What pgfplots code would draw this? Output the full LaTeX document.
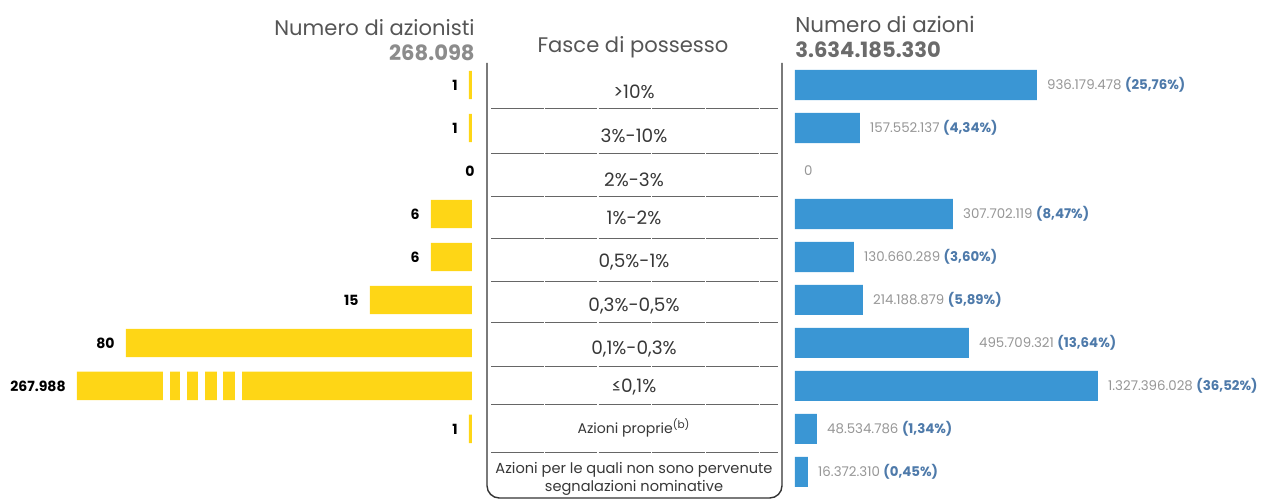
\documentclass[border=0pt]{standalone}
\usepackage{pgfplots}
\pgfplotsset{compat=1.18}
\usepackage{pgfplotstable}
\usepackage{fontspec}
\setmainfont{Poppins}
\definecolor{yel}{RGB}{254,214,22}
\definecolor{blu}{RGB}{58,150,212}
\definecolor{pctcol}{RGB}{78,122,170}
\definecolor{valcol}{RGB}{150,150,150}
\definecolor{hdr}{RGB}{85,85,85}
\definecolor{midtxt}{RGB}{55,55,55}
\pgfkeys{/pgf/number format/assume math mode=true}

% left: number of shareholders (len = drawn bar length, n = value)
\pgfplotstableread{
row len n
1 3 1
2 3 1
4 41 6
5 41 6
6 102 15
7 346 80
8 395 267988
9 3 1
}\leftdata

% right: number of shares (len = drawn bar length)
\pgfplotstableread{
row len val pct
1 242 936179478 25.76
2 65 157552137 4.34
4 158 307702119 8.47
5 59 130660289 3.60
6 68 214188879 5.89
7 174 495709321 13.64
8 303 1327396028 36.52
9 22 48534786 1.34
10 13 16372310 0.45
}\rightdata

\begin{document}
\begin{tikzpicture}
\begin{scope}[x=0.02cm,y=-0.02cm]
\path[use as bounding box] (0,0) rectangle (1264,500);
\end{scope}

% ---------- left axis ----------
\begin{axis}[
  at={(9.44cm,-1.27cm)}, anchor=north east,
  scale only axis, width=8cm, height=8.6cm,
  xmin=0, xmax=400, x dir=reverse,
  ymin=0.5, ymax=10.5, y dir=reverse,
  hide axis, clip=false,
  xbar, bar width=0.66, bar shift=0pt,
]
\addplot[fill=yel, draw=none,
  point meta=explicit symbolic,
  nodes near coords={\pgfmathprintnumber[fixed,precision=0,1000 sep={.},assume math mode=true]{\pgfplotspointmeta}},
  every node near coord/.append style={anchor=east, inner sep=0pt, xshift=-0.22cm,
    font=\bfseries\fontsize{8}{9}\selectfont, text=black}]
  table[x=len, y=row, meta=n]{\leftdata};
\addplot[draw=none, fill=none,
  nodes near coords={0},
  every node near coord/.append style={anchor=east, inner sep=0pt, xshift=0.06cm,
    font=\bfseries\fontsize{8}{9}\selectfont, text=black}]
  coordinates {(0,3)};
% break marks on the longest bar
\fill[white] (axis cs:309,7.62) rectangle (axis cs:302,8.4);
\fill[white] (axis cs:292,7.62) rectangle (axis cs:285,8.4);
\fill[white] (axis cs:274,7.62) rectangle (axis cs:267,8.4);
\fill[white] (axis cs:255,7.62) rectangle (axis cs:249,8.4);
\fill[white] (axis cs:237,7.62) rectangle (axis cs:230,8.4);
\end{axis}

% ---------- right axis ----------
\begin{axis}[
  at={(15.9cm,-1.27cm)}, anchor=north west,
  scale only axis, width=9.2cm, height=8.6cm,
  xmin=0, xmax=460,
  ymin=0.5, ymax=10.5, y dir=reverse,
  hide axis, clip=false,
  xbar, bar width=0.7, bar shift=0pt,
]
\addplot[fill=blu, draw=none,
  point meta=explicit symbolic,
  visualization depends on={\thisrow{pct}\as\pval},
  nodes near coords={\textcolor{valcol}{\pgfmathprintnumber[fixed,precision=0,1000 sep={.},assume math mode=true]{\pgfplotspointmeta}} \textcolor{pctcol}{\bfseries(\pgfmathprintnumber[fixed,fixed zerofill,precision=2,use comma,assume math mode=true]{\pval}\%)}},
  every node near coord/.append style={anchor=west, inner sep=0pt, xshift=0.2cm,
    font=\fontsize{7.6}{9}\selectfont}]
  table[x=len, y=row, meta=val]{\rightdata};
\addplot[draw=none, fill=none,
  nodes near coords={\textcolor{valcol}{0}},
  every node near coord/.append style={anchor=west, inner sep=0pt, xshift=0.18cm,
    font=\fontsize{7.6}{9}\selectfont}]
  coordinates {(0,3)};
\end{axis}

% ---------- middle table and headers ----------
\begin{scope}[x=0.02cm,y=-0.02cm]
\draw[line width=0.8pt, black!80, rounded corners=7pt] (487,63) -- (487,498) -- (782,498) -- (782,63);
\foreach \yy in {108,153,196,238,281,322,366,404,452}
  \draw[black!60, line width=0.55pt, dash pattern=on 30pt off 0.6pt] (491,\yy) -- (778,\yy);
\begin{scope}[every node/.style={text=midtxt, inner sep=0pt, font=\fontsize{10.5}{12}\selectfont}]
\node at (634,92) {>10\%};
\node at (634,136) {3\%-10\%};
\node at (634,180) {2\%-3\%};
\node at (634,218) {1\%-2\%};
\node at (634,262) {0,5\%-1\%};
\node at (634,306) {0,3\%-0,5\%};
\node at (634,349) {0,1\%-0,3\%};
\node at (634,387) {≤0,1\%};
\node[font=\fontsize{8}{10}\selectfont] at (634,428) {Azioni proprie\textsuperscript{(b)}};
\node[font=\fontsize{8.3}{10}\selectfont, align=center] at (634,479) {Azioni per le quali non sono pervenute\\segnalazioni nominative};
\end{scope}
\node[anchor=east, inner sep=0pt, text=hdr, font=\fontsize{12}{14}\selectfont] at (475,28) {Numero di azionisti};
\node[anchor=east, inner sep=0pt, text=black!45, font=\bfseries\fontsize{12}{14}\selectfont] at (475,53) {268.098};
\node[inner sep=0pt, text=hdr, font=\fontsize{12}{14}\selectfont] at (633,47) {Fasce di possesso};
\node[anchor=west, inner sep=0pt, text=hdr, font=\fontsize{12.2}{14}\selectfont] at (795,24) {Numero di azioni};
\node[anchor=west, inner sep=0pt, text=black!58, font=\bfseries\fontsize{12}{14}\selectfont] at (795,50) {3.634.185.330};
\end{scope}
\end{tikzpicture}
\end{document}
